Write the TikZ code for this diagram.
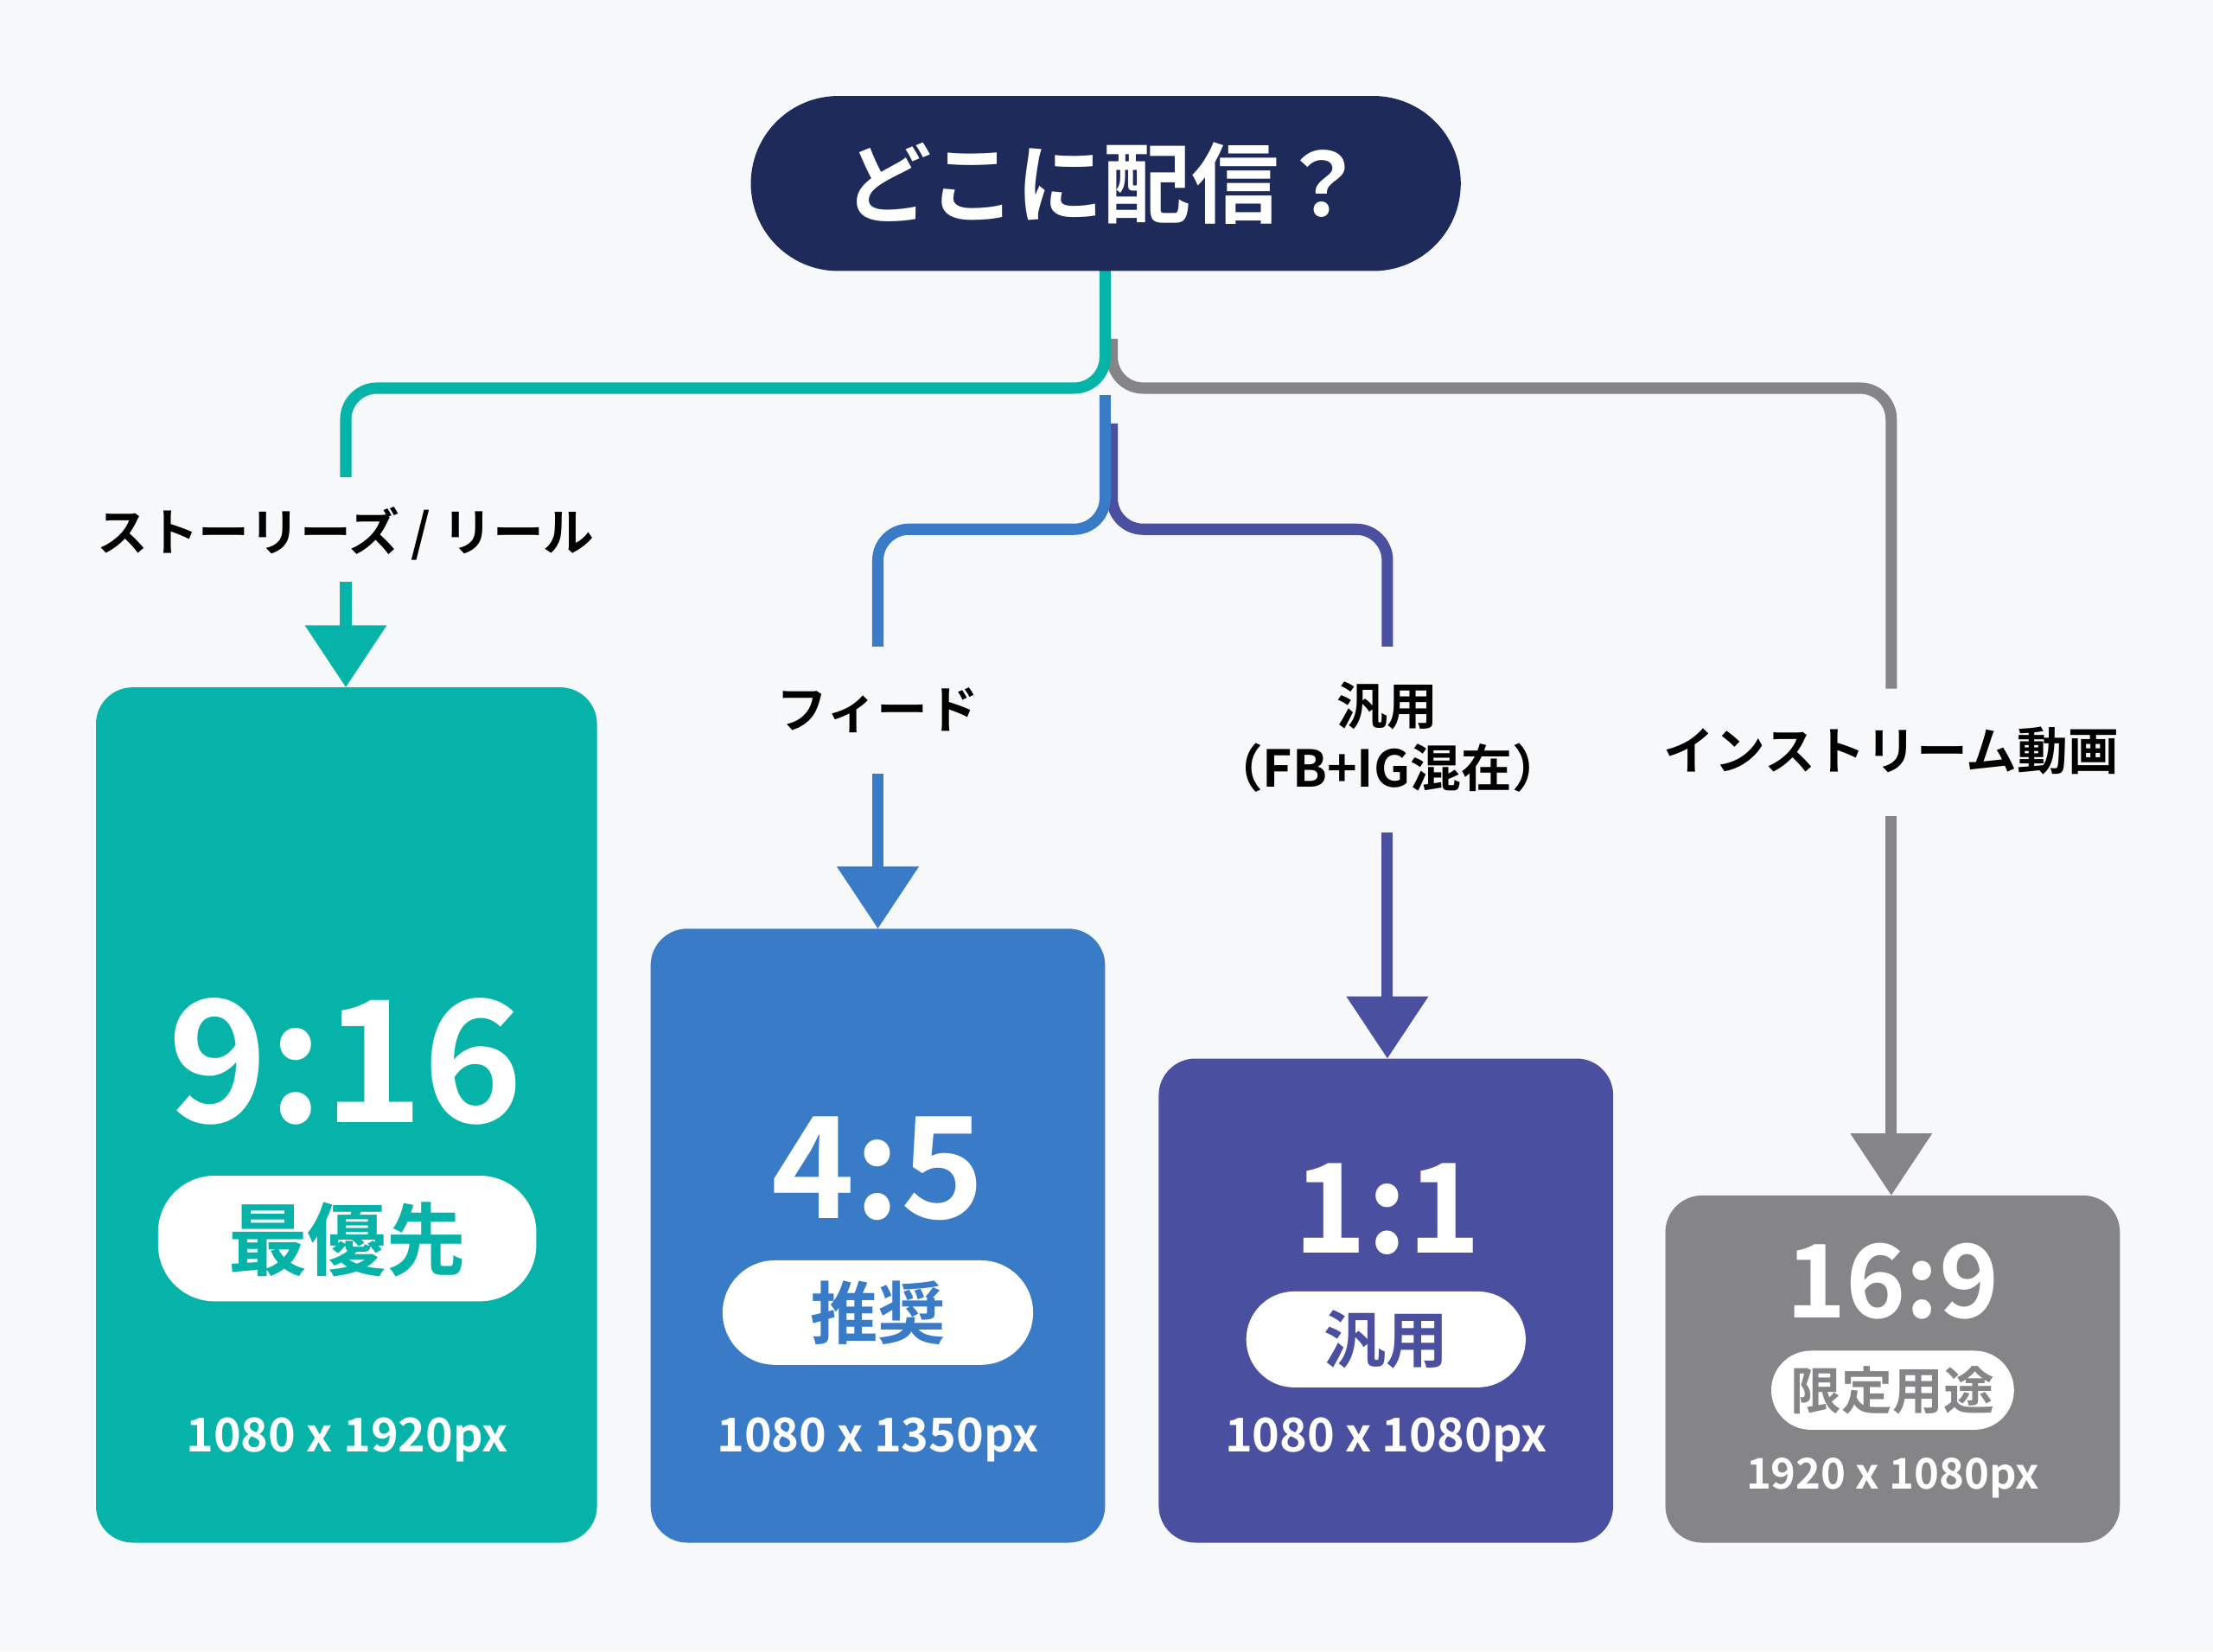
\documentclass[tikz,border=0pt]{standalone}
\usepackage{fontspec}
\setmainfont{Noto Sans CJK JP}[BoldFont={Noto Sans CJK JP Bold}]
\usetikzlibrary{arrows.meta}
\definecolor{navy}{HTML}{1E2A5A}
\definecolor{cteal}{HTML}{05B3A8}
\definecolor{cblue}{HTML}{3A7BC8}
\definecolor{cpurp}{HTML}{4A4FA0}
\definecolor{cgray}{HTML}{858588}
\definecolor{bg}{HTML}{F7F8FA}
\tikzset{
 ln/.style={line width=8pt, rounded corners=22pt},
 arr/.style={line width=8pt, -{Triangle[width=56pt,length=44pt]}},
 lab/.style={font=\bfseries\fontsize{36}{44}\selectfont, text=black, align=center},
 box/.style={rounded corners=26pt},
 big/.style={text=white, font=\bfseries\fontsize{#1}{#1}\selectfont},
 pill/.style={fill=white, rounded corners=40pt},
 dim/.style={text=white, font=\bfseries\fontsize{33}{33}\selectfont}
}
\begin{document}
\begin{tikzpicture}[x=1pt,y=-1pt]
\fill[bg] (0,0) rectangle (1568,1170);
\useasboundingbox (0,0) rectangle (1568,1170);
% branches
\draw[ln,cgray] (788,240) -- (788,275) -- (1340,275) -- (1340,488);
\draw[ln,cpurp] (788,300) -- (788,375) -- (983,375) -- (983,458);
\draw[ln,cblue] (783,280) -- (783,375) -- (622,375) -- (622,458);
\draw[ln,cteal] (783,190) -- (783,275) -- (245,275) -- (245,338);
% title
\fill[navy, rounded corners=62pt] (532,68) rectangle (1035,192);
\node[text=white, font=\bfseries\fontsize{62}{62}\selectfont] (title) at (783,130) {どこに配信？};
% labels
\node[lab] (l1) at (245,378) {ストーリーズ / リール};
\node[lab] (l2) at (622,503) {フィード};
\node[lab] (l3) at (983,522) {汎用\\（FB+IG混在）};
\node[lab] (l4) at (1340,532) {インストリーム動画};
% boxes
\fill[box,cteal] (68,487) rectangle (423,1093);
\fill[box,cblue] (461,658) rectangle (783,1093);
\fill[box,cpurp] (821,750) rectangle (1143,1093);
\fill[box,cgray] (1180,847) rectangle (1502,1093);
% arrows
\coordinate (a1) at (245,412); \coordinate (b1) at (245,487);
\coordinate (a2) at (622,548); \coordinate (b2) at (622,658);
\coordinate (a3) at (983,590); \coordinate (b3) at (983,750);
\coordinate (a4) at (1340,578); \coordinate (b4) at (1340,847);
\draw[arr,cteal] (a1) -- (b1);
\draw[arr,cblue] (a2) -- (b2);
\draw[arr,cpurp] (a3) -- (b3);
\draw[arr,cgray] (a4) -- (b4);
% box content
\node[big=120] (r1) at (245,752) {9:16};
\fill[pill] (112,833) rectangle (380,922);
\node[text=cteal, font=\bfseries\fontsize{56}{56}\selectfont] (p1) at (246,878) {最優先};
\node[dim] (d1) at (246,1020) {1080 x 1920px};

\node[big=100] (r2) at (622,828) {4:5};
\fill[pill,rounded corners=37pt] (512,893) rectangle (732,967);
\node[text=cblue, font=\bfseries\fontsize{48}{48}\selectfont] (p2) at (622,930) {推奨};
\node[dim] (d2) at (622,1020) {1080 x 1350px};

\node[big=88] (r3) at (983,857) {1:1};
\fill[pill,rounded corners=34pt] (883,915) rectangle (1081,983);
\node[text=cpurp, font=\bfseries\fontsize{44}{44}\selectfont] (p3) at (982,949) {汎用};
\node[dim] (d3) at (982,1020) {1080 x 1080px};

\node[big=72] (r4) at (1341,908) {16:9};
\fill[pill,rounded corners=28pt] (1255,957) rectangle (1427,1013);
\node[text=cgray, font=\bfseries\fontsize{36}{36}\selectfont] (p4) at (1341,985) {限定用途};
\node[dim,font=\bfseries\fontsize{30}{30}\selectfont] (d4) at (1341,1047) {1920 x 1080px};
\end{tikzpicture}
\end{document}
